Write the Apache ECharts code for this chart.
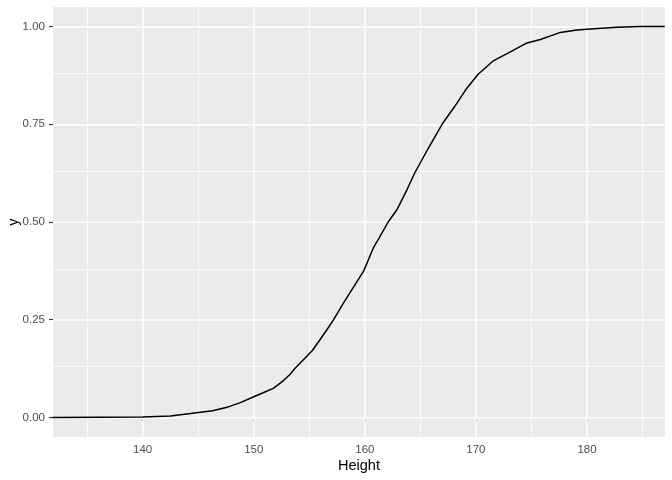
<!DOCTYPE html>
<html>
<head>
<meta charset="utf-8">
<script src="https://cdn.jsdelivr.net/npm/echarts@6/dist/echarts.min.js"></script>
<style>html,body{margin:0;padding:0;background:#fff;}#c{width:672px;height:480px;}</style>
</head>
<body>
<div id="c"></div>
<script>
// ECDF of Height
var heights = [131.9, 140.0, 142.5, 144.3, 146.3, 147.7, 148.8, 150.0, 150.9, 151.8, 152.7, 153.3, 153.7, 154.8, 155.3, 156.6, 157.2, 158.1, 159.9, 160.8, 161.2, 162.1, 162.9, 163.8, 164.5, 165.7, 167.0, 168.1, 169.2, 170.2, 171.6, 173.1, 174.6, 175.8, 177.6, 179.1, 180.3, 182.7, 184.8, 187.0];
var ecdf    = [0.000, 0.001, 0.004, 0.010, 0.017, 0.027, 0.038, 0.053, 0.064, 0.075, 0.095, 0.111, 0.125, 0.157, 0.172, 0.225, 0.251, 0.294, 0.375, 0.436, 0.455, 0.500, 0.532, 0.583, 0.626, 0.688, 0.752, 0.796, 0.843, 0.878, 0.913, 0.935, 0.958, 0.967, 0.985, 0.991, 0.994, 0.998, 1.000, 1.000];
var xTicks = [140, 150, 160, 170, 180];
var xMinor = [135, 145, 155, 165, 175, 185];
var yTicks = [0, 0.25, 0.5, 0.75, 1];
var yMinor = [0.125, 0.375, 0.625, 0.875];
var xRange = [131.93, 187.02];
var yRange = [-0.05, 1.05];

var pts = heights.map(function (h, i) { return [h, ecdf[i]]; });
function vline(v, w) { return { xAxis: v, lineStyle: { color: '#ffffff', width: w, type: 'solid', opacity: 1 } }; }
function hline(v, w) { return { yAxis: v, lineStyle: { color: '#ffffff', width: w, type: 'solid', opacity: 1 } }; }
var gridLines = []
  .concat(xMinor.map(function (v) { return vline(v, 0.8); }))
  .concat(yMinor.map(function (v) { return hline(v, 0.8); }))
  .concat(xTicks.map(function (v) { return vline(v, 1.5); }))
  .concat(yTicks.map(function (v) { return hline(v, 1.5); }));

var font = 'Liberation Sans, Arial, Helvetica, sans-serif';
var chart = echarts.init(document.getElementById('c'), null, { renderer: 'canvas' });
chart.setOption({
  animation: false,
  backgroundColor: '#ffffff',
  grid: { left: 53, right: 7, top: 7, bottom: 43, show: true, backgroundColor: '#EBEBEB', borderWidth: 0, containLabel: false, outerBoundsMode: 'none' },
  xAxis: {
    type: 'value', min: xRange[0], max: xRange[1],
    name: 'Height', nameLocation: 'middle', nameGap: 21, nameMoveOverlap: false,
    nameTextStyle: { color: '#000000', fontSize: 14.5, fontFamily: font },
    axisLine: { show: false },
    splitLine: { show: false },
    axisTick: { show: true, customValues: xTicks, length: 4, lineStyle: { color: '#333333', width: 1.1 } },
    axisLabel: { customValues: xTicks, color: '#4D4D4D', fontSize: 11.5, fontFamily: font, margin: 7, formatter: function (v) { return String(v); } }
  },
  yAxis: {
    type: 'value', min: yRange[0], max: yRange[1],
    name: 'y', nameLocation: 'middle', nameGap: 32, nameRotate: 90, nameMoveOverlap: false,
    nameTextStyle: { color: '#000000', fontSize: 14.5, fontFamily: font },
    axisLine: { show: false },
    splitLine: { show: false },
    axisTick: { show: true, customValues: yTicks, length: 4, lineStyle: { color: '#333333', width: 1.1 } },
    axisLabel: { customValues: yTicks, color: '#4D4D4D', fontSize: 11.5, fontFamily: font, margin: 8, formatter: function (v) { return v.toFixed(2); } }
  },
  series: [
    {
      type: 'line', data: [], z: 1, silent: true, symbol: 'none',
      markLine: { silent: true, symbol: ['none', 'none'], label: { show: false }, animation: false, emphasis: { disabled: true }, data: gridLines }
    },
    {
      type: 'line', data: pts, z: 5, symbol: 'none', showSymbol: false,
      lineStyle: { color: '#000000', width: 1.5 }
    }
  ]
});
</script>
</body>
</html>
